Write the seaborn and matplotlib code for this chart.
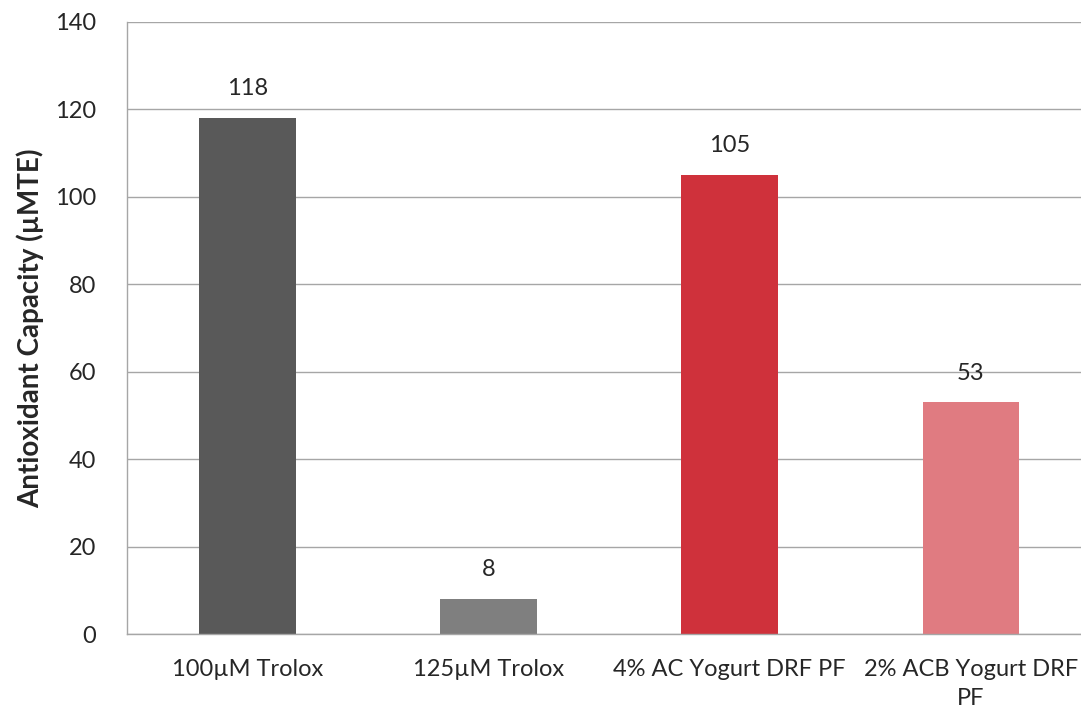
import pandas as pd
import seaborn as sns
import matplotlib.pyplot as plt

# data
samples = ["100µM Trolox", "125µM Trolox", "4% AC Yogurt DRF PF", "2% ACB Yogurt DRF\nPF"]
capacity = [118, 8, 105, 53]
bar_colors = ["#595959", "#7f7f7f", "#cf313b", "#e07b81"]

df = pd.DataFrame({"Sample": samples, "Capacity": capacity})

sns.set_style("white")
plt.rcParams['font.family'] = ['Lato', 'DejaVu Sans']

fig = plt.figure(figsize=(10.81, 7.08), dpi=100)
ax = fig.add_axes([0.1175, 0.1045, 0.892, 0.8645])

sns.barplot(data=df, x="Sample", y="Capacity", hue="Sample", palette=bar_colors,
            width=0.40, legend=False, ax=ax, saturation=1, linewidth=0)

for i, v in enumerate(capacity):
    ax.annotate(f"{v}", (i, v), xytext=(0, 21), textcoords="offset points",
                ha="center", va="center", fontsize=17)

ax.set_ylim(0, 140)
ax.set_yticks(range(0, 141, 20))
ax.set_xlim(-0.5, 3.5)
ax.yaxis.grid(True, color="#a6a6a6", linewidth=1)
ax.set_axisbelow(True)
for s in ["top", "right"]:
    ax.spines[s].set_visible(False)
for s in ["left", "bottom"]:
    ax.spines[s].set_color("#a6a6a6")
    ax.spines[s].set_linewidth(1)
ax.tick_params(axis="y", length=0, labelsize=17, pad=22)
ax.tick_params(axis="x", length=0, labelsize=17, pad=18)
for lbl in ax.get_xticklabels():
    lbl.set_linespacing(1.45)
ax.set_xlabel("")
ax.set_ylabel("Antioxidant Capacity (µMTE)", fontsize=20, fontweight="bold", labelpad=8)

plt.savefig("out.png", dpi=100)
plt.close()
